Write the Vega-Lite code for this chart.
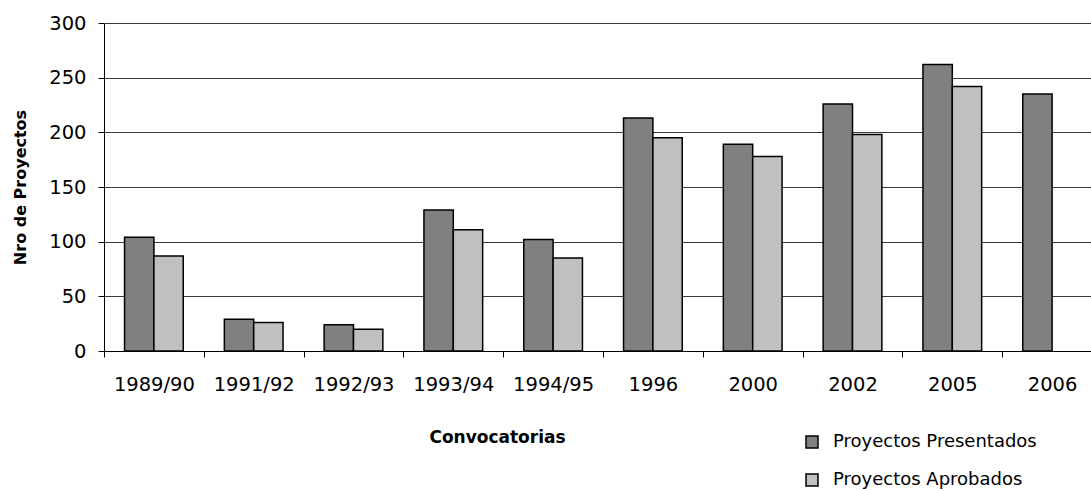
{
  "$schema": "https://vega.github.io/schema/vega-lite/v6.json",
  "autosize": {"type": "none"},
  "padding": {"left": 104, "top": 23, "right": 0, "bottom": 140},
  "width": 987,
  "height": 328,
  "background": "white",
  "config": {
    "view": {"stroke": null},
    "font": "DejaVu Sans"
  },
  "data": {
    "values": [
      {"convocatoria": "1989/90", "serie": "Proyectos Presentados", "valor": 104},
      {"convocatoria": "1989/90", "serie": "Proyectos Aprobados", "valor": 87},
      {"convocatoria": "1991/92", "serie": "Proyectos Presentados", "valor": 29},
      {"convocatoria": "1991/92", "serie": "Proyectos Aprobados", "valor": 26},
      {"convocatoria": "1992/93", "serie": "Proyectos Presentados", "valor": 24},
      {"convocatoria": "1992/93", "serie": "Proyectos Aprobados", "valor": 20},
      {"convocatoria": "1993/94", "serie": "Proyectos Presentados", "valor": 129},
      {"convocatoria": "1993/94", "serie": "Proyectos Aprobados", "valor": 111},
      {"convocatoria": "1994/95", "serie": "Proyectos Presentados", "valor": 102},
      {"convocatoria": "1994/95", "serie": "Proyectos Aprobados", "valor": 85},
      {"convocatoria": "1996", "serie": "Proyectos Presentados", "valor": 213},
      {"convocatoria": "1996", "serie": "Proyectos Aprobados", "valor": 195},
      {"convocatoria": "2000", "serie": "Proyectos Presentados", "valor": 189},
      {"convocatoria": "2000", "serie": "Proyectos Aprobados", "valor": 178},
      {"convocatoria": "2002", "serie": "Proyectos Presentados", "valor": 226},
      {"convocatoria": "2002", "serie": "Proyectos Aprobados", "valor": 198},
      {"convocatoria": "2005", "serie": "Proyectos Presentados", "valor": 262},
      {"convocatoria": "2005", "serie": "Proyectos Aprobados", "valor": 242},
      {"convocatoria": "2006", "serie": "Proyectos Presentados", "valor": 235}
    ]
  },
  "mark": {"type": "bar", "stroke": "black", "strokeWidth": 1.5},
  "encoding": {
    "x": {
      "field": "convocatoria",
      "type": "nominal",
      "sort": null,
      "scale": {"range": [0, 998], "paddingInner": 0, "paddingOuter": 0},
      "axis": {
        "title": "Convocatorias",
        "titleFont": "DejaVu Sans",
        "titleFontWeight": "bold",
        "titleFontSize": 17,
        "titleColor": "black",
        "titleX": 393,
        "titleY": 91,
        "titleBaseline": "alphabetic",
        "titleAnchor": "middle",
        "titleAlign": "center",
        "labelAngle": 0,
        "labelFont": "DejaVu Sans",
        "labelFontSize": 19.5,
        "labelColor": "black",
        "labelBaseline": "alphabetic",
        "labelPadding": 33,
        "labelOverlap": false,
        "tickBand": "extent",
        "tickSize": 6,
        "tickColor": "black",
        "domainColor": "black",
        "domainWidth": 1,
        "grid": false
      }
    },
    "xOffset": {
      "field": "serie",
      "type": "nominal",
      "sort": ["Proyectos Presentados", "Proyectos Aprobados"],
      "scale": {"paddingInner": 0, "paddingOuter": 0.7}
    },
    "y": {
      "field": "valor",
      "type": "quantitative",
      "scale": {"domain": [0, 300], "nice": false},
      "axis": {
        "values": [0, 50, 100, 150, 200, 250, 300],
        "title": "Nro de Proyectos",
        "titleFont": "DejaVu Sans",
        "titleFontWeight": "bold",
        "titleFontSize": 16,
        "titleColor": "black",
        "titlePadding": 20,
        "labelFont": "DejaVu Sans",
        "labelFontSize": 19.5,
        "labelColor": "black",
        "labelPadding": 12,
        "tickSize": 6,
        "tickColor": "black",
        "domainColor": "black",
        "grid": true,
        "gridColor": "#3a3a3a",
        "gridWidth": 1
      }
    },
    "color": {
      "field": "serie",
      "type": "nominal",
      "scale": {
        "domain": ["Proyectos Presentados", "Proyectos Aprobados"],
        "range": ["#808080", "#C0C0C0"]
      },
      "legend": {
        "title": null,
        "orient": "none",
        "legendX": 699,
        "legendY": 410,
        "padding": 0,
        "symbolType": "square",
        "symbolSize": 144,
        "symbolStrokeColor": "black",
        "symbolStrokeWidth": 1.5,
        "symbolOffset": 0,
        "labelFont": "DejaVu Sans",
        "labelFontSize": 18,
        "labelColor": "black",
        "labelOffset": 12,
        "labelLimit": 400,
        "rowPadding": 20
      }
    }
  }
}
